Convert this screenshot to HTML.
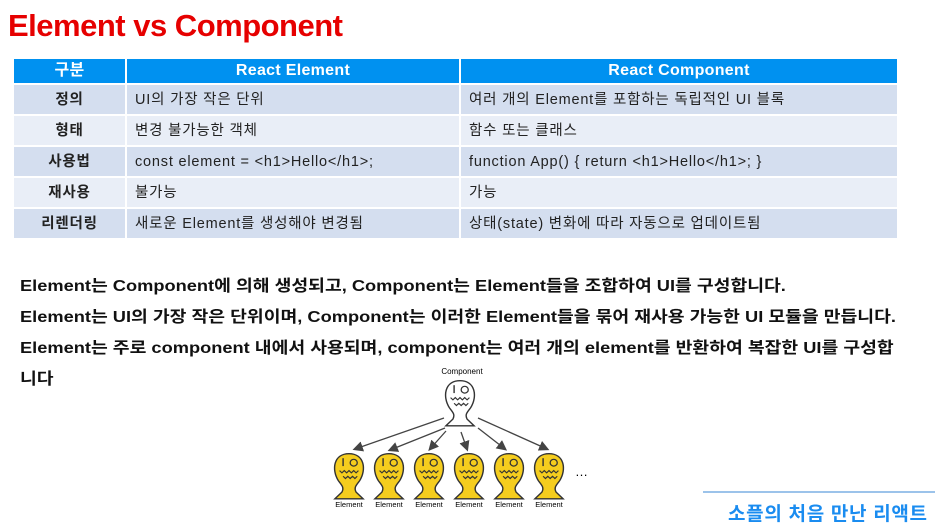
<!DOCTYPE html>
<html><head><meta charset="utf-8"><style>
body{margin:0;width:945px;height:511px;background:#fff;position:relative;overflow:hidden;font-family:"Liberation Sans","Noto Sans CJK KR",sans-serif}
h1{position:absolute;left:8px;top:8px;margin:0;font-size:31px;color:#e60000;font-weight:bold;letter-spacing:-0.5px}
table{position:absolute;left:12px;top:57px;border-collapse:collapse;width:887px;font-size:14.5px;color:#222;table-layout:fixed}
td,th{border:2px solid #fff;padding:0 8px;height:29px;line-height:20px;letter-spacing:0.8px}
th{background:#0091f0;color:#fff;font-size:16px;height:24px;letter-spacing:0.3px}
tr.a td{background:#d4deef}tr.b td{background:#e9eef7}
td.k{text-align:center;font-weight:bold}
.p{position:absolute;left:20px;font-size:16px;font-weight:bold;color:#111;transform:scaleX(1.14);transform-origin:0 0;white-space:nowrap}
.ft{position:absolute;left:703px;top:491px;width:232px;border-top:2px solid #9cc3ea}
.fx{position:absolute;left:728px;top:499px;font-size:19px;font-weight:bold;color:#1a8cf0;letter-spacing:0.7px}
</style></head><body>
<h1>Element vs Component</h1>
<table>
<colgroup><col style="width:113px"><col style="width:334px"><col></colgroup>
<tr><th>구분</th><th>React Element</th><th>React Component</th></tr>
<tr class="a"><td class="k">정의</td><td>UI의 가장 작은 단위</td><td>여러 개의 Element를 포함하는 독립적인 UI 블록</td></tr>
<tr class="b"><td class="k">형태</td><td>변경 불가능한 객체</td><td>함수 또는 클래스</td></tr>
<tr class="a"><td class="k">사용법</td><td>const element = &lt;h1&gt;Hello&lt;/h1&gt;;</td><td>function App() { return &lt;h1&gt;Hello&lt;/h1&gt;; }</td></tr>
<tr class="b"><td class="k">재사용</td><td>불가능</td><td>가능</td></tr>
<tr class="a"><td class="k">리렌더링</td><td>새로운 Element를 생성해야 변경됨</td><td>상태(state) 변화에 따라 자동으로 업데이트됨</td></tr>
</table>
<div class="p" style="top:272px">Element는 Component에 의해 생성되고, Component는 Element들을 조합하여 UI를 구성합니다.</div>
<div class="p" style="top:303px">Element는 UI의 가장 작은 단위이며, Component는 이러한 Element들을 묶어 재사용 가능한 UI 모듈을 만듭니다.</div>
<div class="p" style="top:334px">Element는 주로 component 내에서 사용되며, component는 여러 개의 element를 반환하여 복잡한 UI를 구성합</div>
<div class="p" style="top:365px">니다</div>
<svg style="position:absolute;left:0;top:0" width="945" height="511">
<defs>
<marker id="m" markerWidth="8" markerHeight="8" refX="6" refY="4" orient="auto"><path d="M0,0 L8,4 L0,8z" fill="#444"/></marker>
<g id="f"><g transform="scale(1.18,1.13)"><path d="M0,-18 C13,-18 15,-4 9,6 C6,10 4,12 6,16 L12,22 L-12,22 L-6,16 C-4,12 -6,10 -9,6 C-15,-4 -13,-18 0,-18z" stroke="#333" stroke-width="1.2"/>
<line x1="-5" y1="-14" x2="-5" y2="-7" stroke="#333" stroke-width="1.2"/><circle cx="4" cy="-10" r="3" fill="none" stroke="#333" stroke-width="1.1"/>
<path d="M-8,-3 l2,2 l2,-2 l2,2 l2,-2 l2,2 l2,-2 l2,2 l2,-2 M-5,2 l2,2 l2,-2 l2,2 l2,-2 l2,2 l2,-2" fill="none" stroke="#333" stroke-width="1"/></g></g>
</defs>
<text x="462" y="374" font-size="8" text-anchor="middle" font-family="Liberation Sans,Noto Sans CJK KR,sans-serif">Component</text>
<use href="#f" x="460" y="401" fill="#fff"/>
<g stroke="#444" stroke-width="1.3" marker-end="url(#m)">
<line x1="444" y1="418" x2="355" y2="449"/><line x1="445" y1="428" x2="390" y2="450"/>
<line x1="446" y1="431" x2="430" y2="449"/><line x1="461" y1="432" x2="467" y2="449"/>
<line x1="478" y1="428" x2="505" y2="449"/><line x1="478" y1="418" x2="547" y2="449"/></g>
<g fill="#f5cd1e">
<use href="#f" x="349" y="474"/><use href="#f" x="389" y="474"/><use href="#f" x="429" y="474"/>
<use href="#f" x="469" y="474"/><use href="#f" x="509" y="474"/><use href="#f" x="549" y="474"/></g>
<g font-size="7.5" text-anchor="middle" font-family="Liberation Sans,sans-serif">
<text x="349" y="507">Element</text><text x="389" y="507">Element</text><text x="429" y="507">Element</text>
<text x="469" y="507">Element</text><text x="509" y="507">Element</text><text x="549" y="507">Element</text></g>
<text x="575" y="476" font-size="13">…</text>
</svg>
<div class="ft"></div><div class="fx">소플의 처음 만난 리액트</div>
</body></html>
